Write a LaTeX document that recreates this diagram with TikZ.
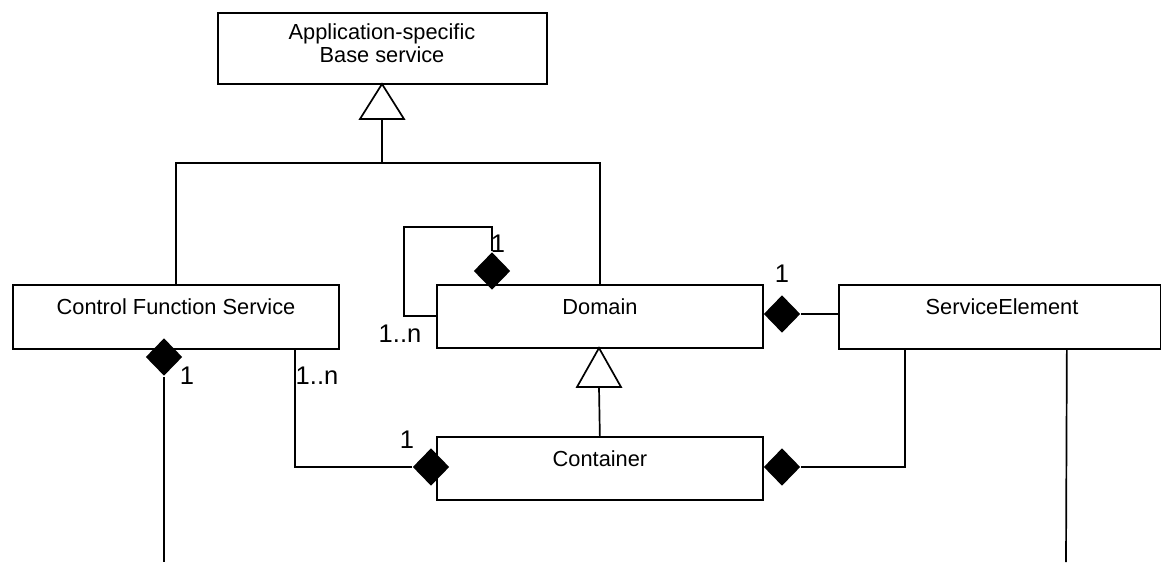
\documentclass[tikz,border=0pt]{standalone}
\usepackage{fontspec}
\setmainfont{Liberation Sans}
\usetikzlibrary{shapes.geometric}
\begin{document}
\begin{tikzpicture}[x=1pt,y=-1pt, line width=1.7pt,
  classbox/.style={draw, rectangle, inner sep=0pt, anchor=north west},
  comp/.style={diamond, fill=black, draw=none, inner sep=0pt, minimum width=37pt, minimum height=38pt},
  classtext/.style={anchor=base, font=\fontsize{21.8}{23}\selectfont, inner sep=0pt},
  mult/.style={anchor=base, font=\fontsize{25.5}{27}\selectfont, inner sep=0pt},
  gen/.style={draw, fill=white, line join=miter}]
\useasboundingbox (0,0) rectangle (1161,562);

% class boxes
\node[classbox, minimum width=329pt, minimum height=71pt] (base) at (217,12) {};
\node[classbox, minimum width=326pt, minimum height=64pt] (cfs) at (12,284) {};
\node[classbox, minimum width=326pt, minimum height=63pt] (domain) at (436,284) {};
\node[classbox, minimum width=322pt, minimum height=64pt] (se) at (838,284) {};
\node[classbox, minimum width=326pt, minimum height=63pt] (container) at (436,436) {};

% class names
\node[classtext] (tbase1) at (382,39) {Application-specific};
\node[classtext] (tbase2) at (382,62) {Base service};
\node[classtext] (tcfs) at (176,314) {Control Function Service};
\node[classtext] (tdomain) at (600,314) {Domain};
\node[classtext] (tse) at (1002,314) {ServiceElement};
\node[classtext] (tcont) at (600,466) {Container};

% generalization to base service
\coordinate (gb1) at (382,119);
\coordinate (gj) at (382,163);
\draw (gb1) -- (gj);
\draw (cfs.north) |- (gj) -| (domain.north);
\draw[gen] (382,84) -- (404,119) -- (360,119) -- cycle;

% generalization container -> domain
\coordinate (gb2) at (599,387);
\draw (gb2) -- (container.north);
\draw[gen] (599,348) -- (621,387) -- (577,387) -- cycle;

% composition diamonds
\node[comp] (d1) at (492,271) {};
\node[comp] (d2) at (782,314) {};
\node[comp] (d3) at (782,467) {};
\node[comp] (d4) at (431,467) {};
\node[comp] (d5) at (164,357) {};

% self loop on Domain
\coordinate (la) at (404,227);
\coordinate (lb) at (404,316);
\draw (d1.north) |- (la) -- (lb) -- (lb -| domain.west);

% Domain - ServiceElement
\draw (d2.east) -- (se.west |- d2.east);

% ServiceElement - Container
\draw ([xshift=-95pt]se.south) |- (d3.east);

% Control Function Service - Container
\draw ([xshift=119pt]cfs.south) |- (d4.west);

% open ends
\coordinate (e1) at (164,562);
\coordinate (e2) at (1066,562);
\draw (d5.south) -- (e1);
\draw ([xshift=67pt]se.south) -- (e2);

% multiplicities
\node[mult] (m1) at (498,252) {1};
\node[mult] (m2) at (400,342) {1..n};
\node[mult] (m3) at (782,282) {1};
\node[mult] (m4) at (187,384) {1};
\node[mult] (m5) at (317,384) {1..n};
\node[mult] (m6) at (407,448) {1};
\end{tikzpicture}
\end{document}
